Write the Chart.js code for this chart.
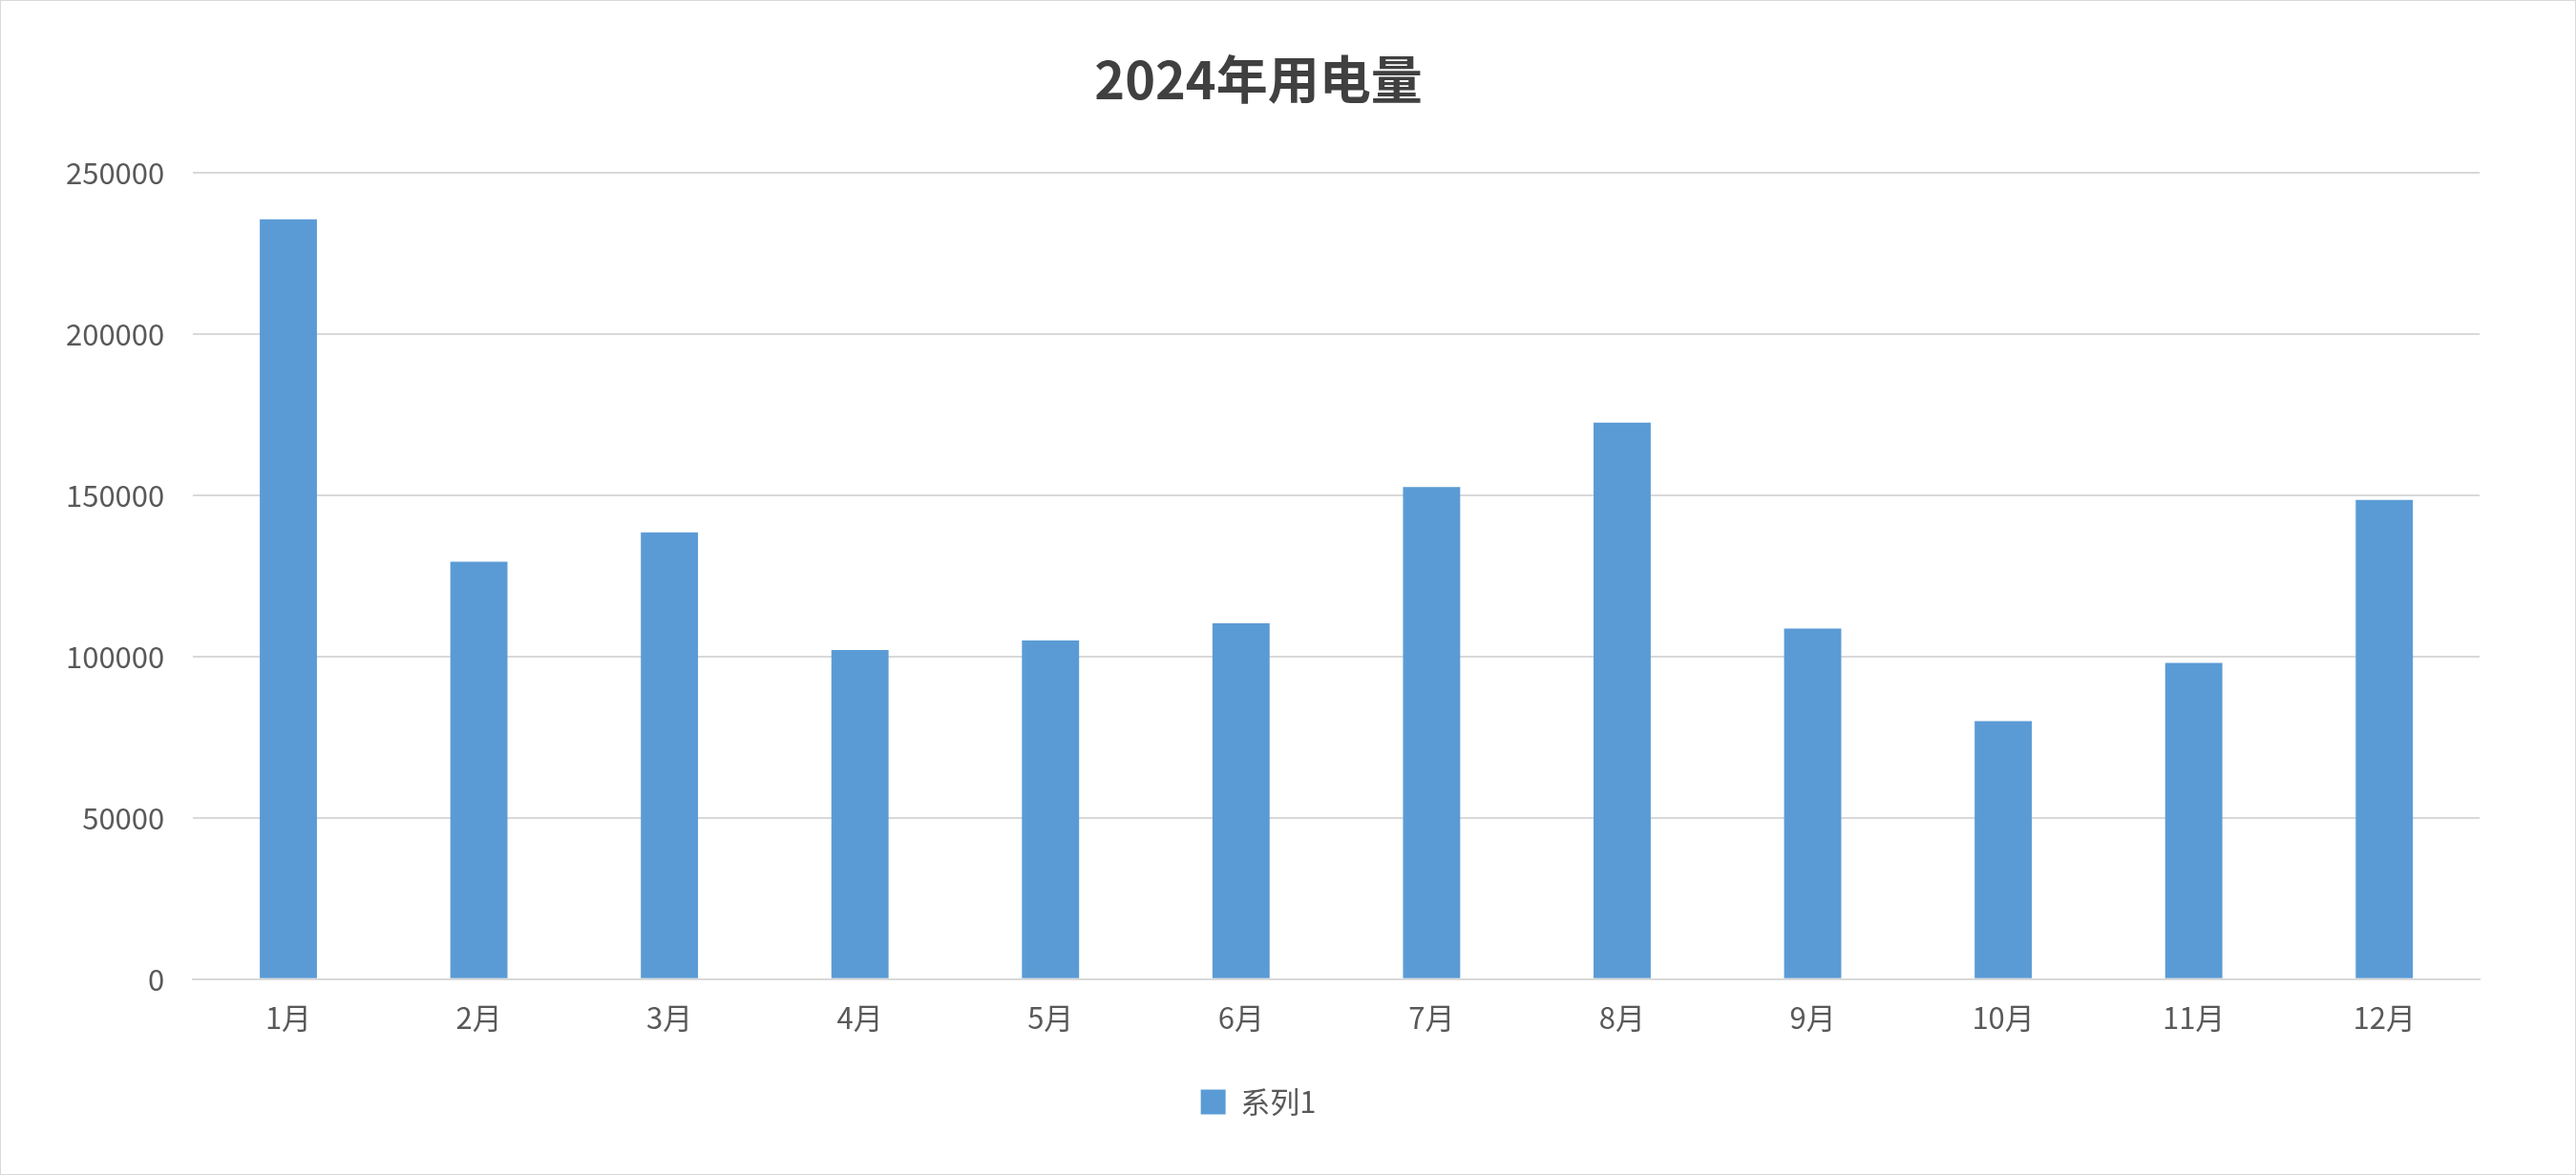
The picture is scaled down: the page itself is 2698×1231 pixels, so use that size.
<!DOCTYPE html>
<html><head><meta charset="utf-8">
<script src="https://cdn.jsdelivr.net/npm/chart.js@4/dist/chart.umd.min.js"></script>
<style>html,body{margin:0;padding:0;background:#fff}#wrap{position:absolute;left:0;top:0;width:2696px;height:1229px;border:1px solid #d9d9d9}</style>
</head><body><div id="wrap"><canvas id="c"></canvas></div>
<script>
const categories=["1月","2月","3月","4月","5月","6月","7月","8月","9月","10月","11月","12月"];
const series1=[235500,129400,138500,102000,105000,110300,152500,172500,108700,80000,98000,148500];
const seriesName="系列1";
const titleText="2024年用电量";
const F="'Noto Sans CJK SC','Noto Sans',sans-serif";
new Chart(document.getElementById('c'),{
 type:'bar',
 data:{labels:categories,datasets:[{label:seriesName,data:series1,backgroundColor:'#5B9BD5',categoryPercentage:1,barPercentage:0.3}]},
 options:{responsive:true,maintainAspectRatio:false,animation:false,
  layout:{padding:{left:38,right:100,top:50,bottom:50}},
  plugins:{
   title:{display:true,text:titleText,color:'#404040',font:{family:F,size:54,weight:'bold'},padding:{top:0,bottom:65}},
   legend:{position:'bottom',labels:{color:'#595959',font:{family:F,size:31},boxWidth:26,boxHeight:26,padding:40}},
   tooltip:{enabled:false}},
  scales:{
   x:{grid:{display:false},border:{color:'#d9d9d9',width:2},ticks:{color:'#595959',font:{family:F,size:31},padding:14}},
   y:{min:0,max:250000,ticks:{stepSize:50000,color:'#595959',font:{family:F,size:31},padding:30,callback:v=>String(v)},grid:{color:'#d9d9d9',lineWidth:2,drawTicks:false},border:{display:false}}
  }}
});
</script></body></html>
